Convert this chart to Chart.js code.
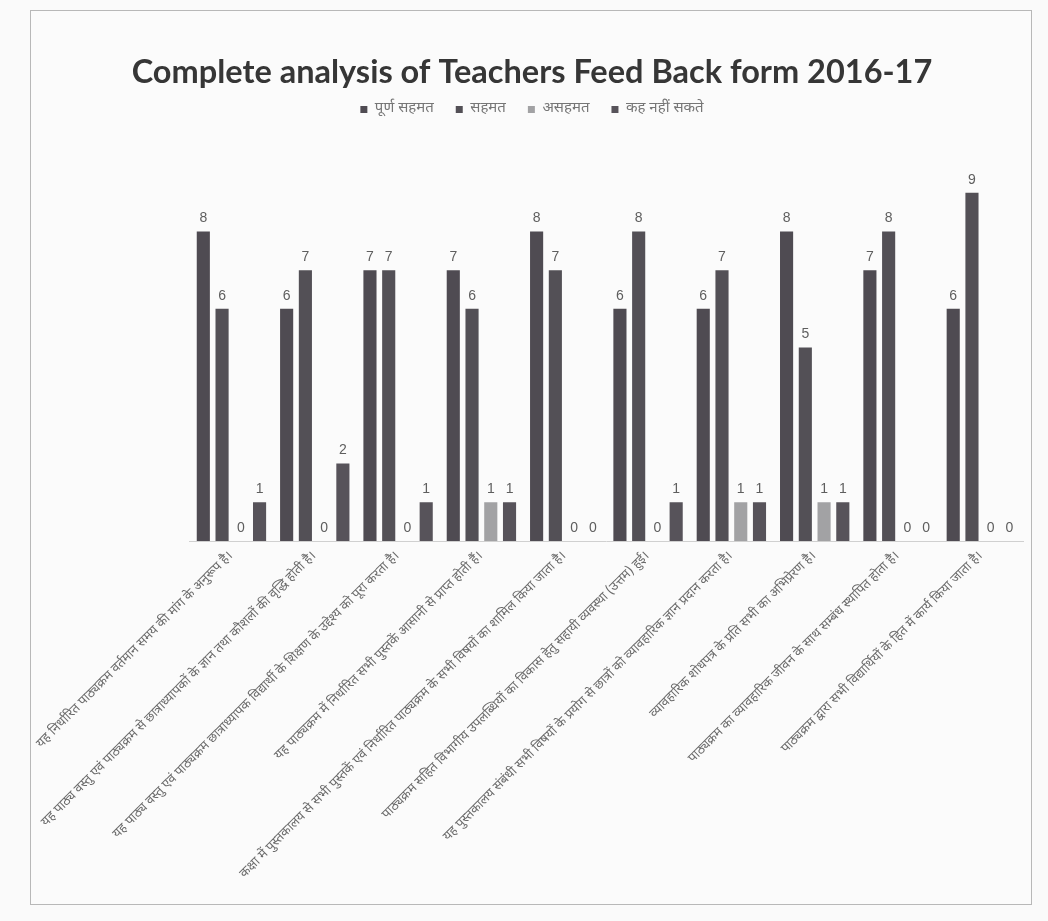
<!DOCTYPE html>
<html>
<head>
<meta charset="utf-8">
<script src="https://cdn.jsdelivr.net/npm/chart.js@4.4.1/dist/chart.umd.min.js"></script>
<style>
  html, body { margin: 0; padding: 0; background: #fafafa; }
  #frame {
    position: absolute; left: 30px; top: 10px;
    width: 1000px; height: 893px;
    border: 1px solid #b8b8b8; background: #fbfbfb;
  }
</style>
</head>
<body>
<div id="frame"><canvas id="feedbackChart" width="1000" height="893"></canvas></div>
<script>
// statements on the form (x axis)
const statements = [
    'यह निर्धारित पाठ्यक्रम वर्तमान समय की मांग के अनुरूप है।',
    'यह पाठ्य वस्तु एवं पाठ्यक्रम से छात्राध्यापकों के ज्ञान तथा कौशलों की वृद्धि होती है।',
    'यह पाठ्य वस्तु एवं पाठ्यक्रम छात्राध्यापक विद्यार्थी के शिक्षण के उद्देश्य को पूरा करता है।',
    'यह पाठ्यक्रम में निर्धारित सभी पुस्तकें आसानी से प्राप्त होती हैं।',
    'कक्षा में पुस्तकालय से सभी पुस्तकें एवं निर्धारित पाठ्यक्रम के सभी विषयों का शामिल किया जाता है।',
    'पाठ्यक्रम सहित विभागीय उपलब्धियों का विकास हेतु सहायी व्यवस्था (उत्तम) हुई।',
    'यह पुस्तकालय संबंधी सभी विषयों के प्रयोग से छात्रों को व्यावहारिक ज्ञान प्रदान करता है।',
    'व्यावहारिक शोधपत्र के प्रति सभी का अभिप्रेरण है।',
    'पाठ्यक्रम का व्यावहारिक जीवन के साथ सम्बंध स्थापित होता है।',
    'पाठ्यक्रम द्वारा सभी विद्यार्थियों के हित में कार्य किया जाता है।'
];
const seriesNames = ['पूर्ण सहमत', 'सहमत', 'असहमत', 'कह नहीं सकते'];
const stronglyAgree = [8, 6, 7, 7, 8, 6, 6, 8, 7, 6];
const agree         = [6, 7, 7, 6, 7, 8, 7, 5, 8, 9];
const disagree      = [0, 0, 0, 1, 0, 0, 1, 1, 0, 0];
const cantSay       = [1, 2, 1, 1, 0, 1, 1, 1, 0, 0];
const barColors = ['#4f4b52', '#535056', '#a2a2a4', '#57535a'];
const yMax = 10.7;

const devaFont = "'Noto Sans Devanagari', 'Lohit Devanagari', 'Noto Sans', sans-serif";

// numbers above each bar
const barValues = {
    id: 'barValues',
    afterDatasetsDraw(chart) {
        const ctx = chart.ctx;
        ctx.save();
        ctx.font = '14px "Liberation Sans", sans-serif';
        ctx.fillStyle = '#5e5e5e';
        ctx.textAlign = 'center';
        ctx.textBaseline = 'bottom';
        chart.data.datasets.forEach((ds, i) => {
            chart.getDatasetMeta(i).data.forEach((bar, j) => {
                ctx.fillText(ds.data[j], bar.x, bar.y - 6);
            });
        });
        ctx.restore();
    }
};

document.addEventListener('DOMContentLoaded', () => {
    const ctx = document.getElementById('feedbackChart').getContext('2d');
    const allSeries = [stronglyAgree, agree, disagree, cantSay];
    new Chart(ctx, {
        type: 'bar',
        data: {
            labels: statements,
            datasets: allSeries.map((vals, i) => ({
                label: seriesNames[i],
                data: vals,
                backgroundColor: barColors[i],
                borderWidth: 0
            }))
        },
        options: {
            responsive: false,
            animation: false,
            layout: { padding: { left: 10, right: 8, top: 10, bottom: 14 } },
            datasets: { bar: { categoryPercentage: 0.9, barPercentage: 0.7 } },
            scales: {
                y: {
                    display: false,
                    min: 0, max: yMax
                },
                x: {
                    grid: { display: false, drawTicks: false },
                    border: { display: true, color: '#d0d0d0' },
                    ticks: {
                        minRotation: 45, maxRotation: 45,
                        autoSkip: false,
                        color: '#6a6a6a',
                        padding: 8,
                        font: { family: devaFont, size: 13 }
                    }
                }
            },
            plugins: {
                title: {
                    display: true,
                    text: 'Complete analysis of Teachers Feed Back form 2016-17',
                    color: '#363636',
                    font: { family: 'Lato', size: 32.5, weight: 'bold' },
                    padding: { top: 32, bottom: -12 }
                },
                legend: {
                    display: true,
                    labels: {
                        color: '#767676',
                        boxWidth: 7, boxHeight: 7,
                        padding: 22,
                        font: { family: devaFont, size: 15 }
                    }
                },
                tooltip: { enabled: false }
            }
        },
        plugins: [barValues]
    });
});
</script>
</body>
</html>
